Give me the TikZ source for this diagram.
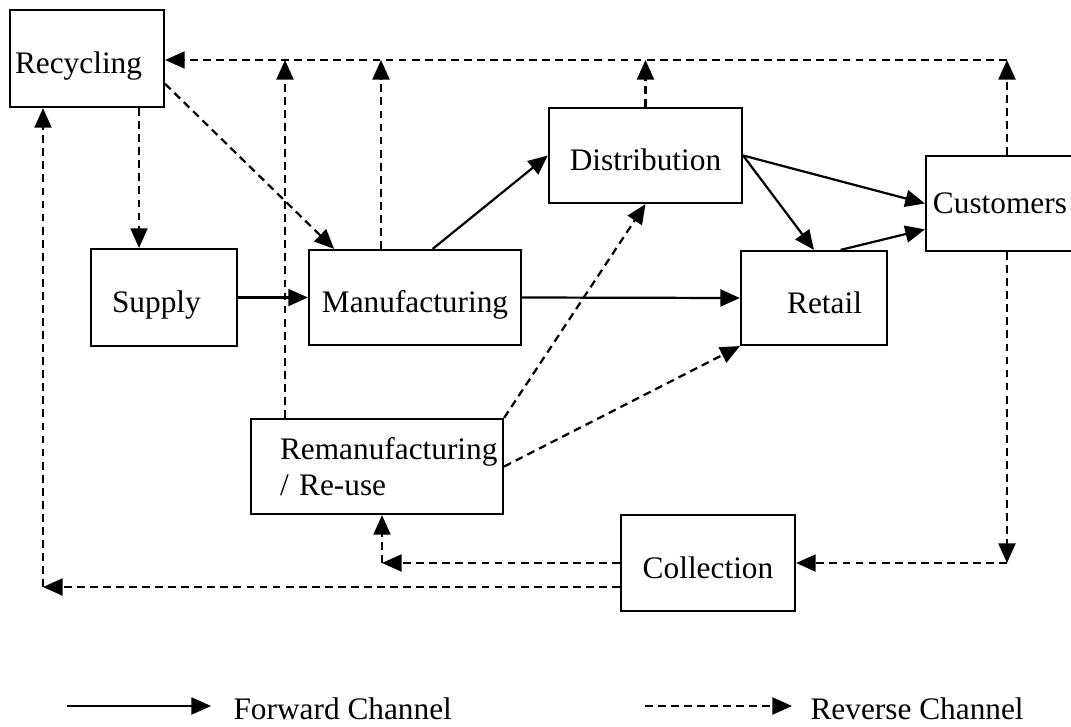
\documentclass[tikz,border=0pt]{standalone}
\usepackage{fontspec}
\setmainfont{Liberation Serif}
\usetikzlibrary{arrows.meta}
\newcommand{\pxu}{0.383pt}

\begin{document}
\begin{tikzpicture}[x=\pxu, y=-\pxu, font=\fontsize{12}{13.8}\selectfont,
        box/.style={draw, line width=0.85pt, inner sep=0pt},
        onebox/.style={box, text height=30*\pxu, text depth=0pt},
        fwd/.style={line width=0.85pt, -{Triangle[length=7.5pt,width=6.5pt]}},
        rev/.style={fwd, dash pattern=on 3pt off 2pt}]
        \useasboundingbox (0,0) rectangle (1071,727);

        \node[onebox, minimum width=154*\pxu, minimum height=97*\pxu, inner xsep=5*\pxu, text width=144*\pxu, align=left] (recyc) at (87,58.5) {Recycling};
        \node[onebox, minimum width=146*\pxu, minimum height=97*\pxu, inner xsep=21*\pxu, text width=104*\pxu, align=left] (supply) at (164,297.5) {Supply};
        \node[onebox, minimum width=212*\pxu, minimum height=95*\pxu] (manuf) at (415,297.5) {Manufacturing};
        \node[onebox, minimum width=193*\pxu, minimum height=95*\pxu] (dist) at (645.5,155.5) {Distribution};
        \node[onebox, minimum width=146*\pxu, minimum height=94*\pxu, inner xsep=25*\pxu, text width=96*\pxu, align=right] (retail) at (814,298) {Retail};
        \node[onebox, minimum width=148*\pxu, minimum height=95*\pxu, text height=19*\pxu] (cust) at (1000,203.5) {Customers};
        \node[box, minimum width=252*\pxu, minimum height=95*\pxu, inner xsep=29*\pxu, text width=194*\pxu, align=left] (reman) at (377,466.5) {\mbox{Remanufacturing}\\/ Re-use};
        \node[onebox, minimum width=174*\pxu, minimum height=96*\pxu] (coll) at (708,563) {Collection};

        \coordinate (top) at (1007,60);
        \coordinate (rup) at (285,60);
        \coordinate (mup) at (381,60);
        \coordinate (rs) at (139,0);
        \coordinate (lc) at (43,587);
        \coordinate (rc) at (382,563);
        \coordinate (cc) at (1007,563);

        \draw[fwd] (supply.east) -- (manuf.west);
        \draw[fwd] (manuf.east) -- (retail.west);
        \draw[fwd] (manuf.70) -- (dist.west);
        \draw[fwd] (dist.east) -- (cust.west);
        \draw[fwd] (dist.east) -- (retail.north);
        \draw[fwd] (retail.61) -- (cust.199);

        \draw[rev] (cust.north -| top) -- (top);
        \draw[rev] (top) -- (recyc.east |- top);
        \draw[rev] (dist.north) -- (dist.north |- top);
        \draw[rev] (manuf.north -| mup) -- (mup);
        \draw[rev] (reman.north -| rup) -- (rup);
        \draw[rev] (recyc.south -| rs) -- (supply.north -| rs);
        \draw[rev] (recyc.-18) -- (manuf.149);
        \draw[rev] (reman.north east) -- (dist.south);
        \draw[rev] (reman.east) -- (retail.south west);
        \draw[rev] (cust.south -| cc) -- (cc);
        \draw[rev] (cc) -- (coll.east);
        \draw[rev] (coll.west |- rc) -- (rc);
        \draw[rev] (rc) -- (reman.south -| rc);
        \draw[rev] (coll.west |- lc) -- (lc);
        \draw[rev] (lc) -- (recyc.south -| lc);

        \coordinate (f1) at (67,706);
        \coordinate (f2) at (211,706);
        \coordinate (r1) at (645,706);
        \coordinate (r2) at (792,706);
        \draw[fwd] (f1) -- (f2);
        \draw[rev] (r1) -- (r2);
        \node[anchor=base west, inner sep=0pt] (fwdtxt) at (233,719) {Forward Channel};
        \node[anchor=base west, inner sep=0pt] (revtxt) at (810,719) {Reverse Channel};
\end{tikzpicture}
\end{document}
